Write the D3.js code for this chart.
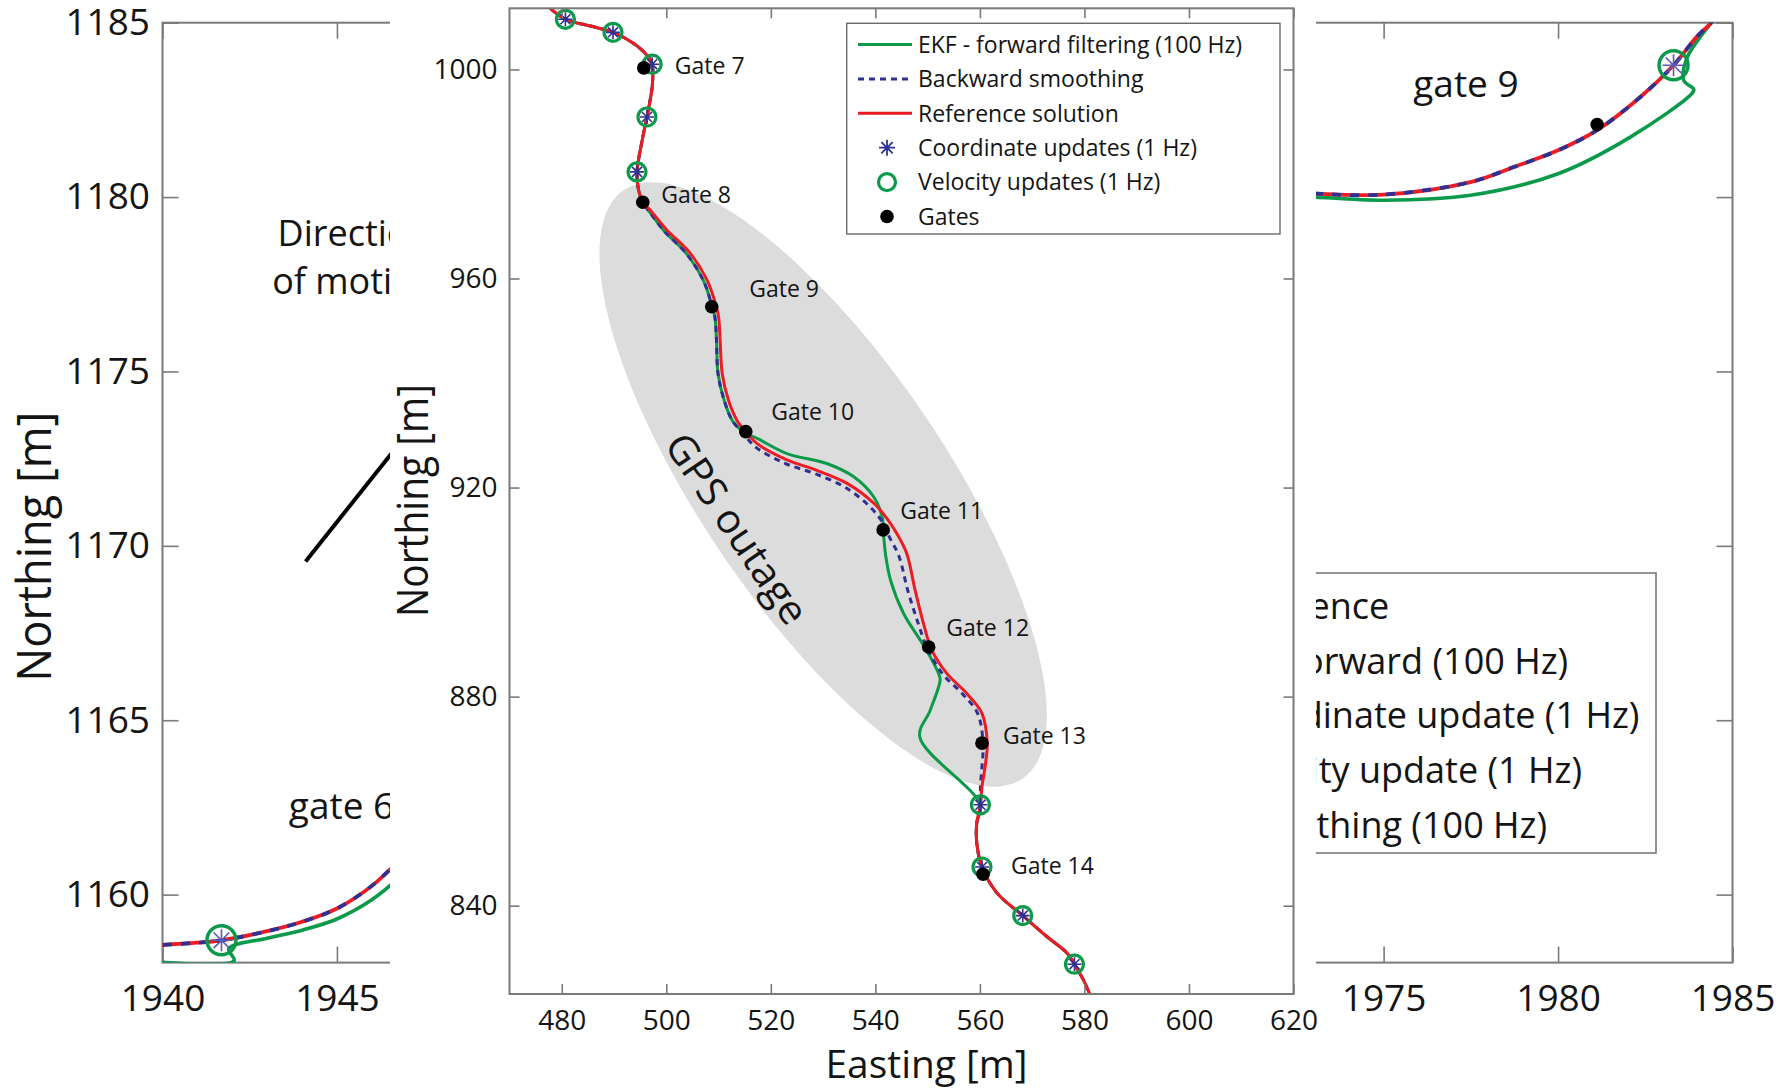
<!DOCTYPE html>
<html><head><meta charset="utf-8">
<script src="https://d3js.org/d3.v7.min.js"></script>
<style>
html,body{margin:0;padding:0;background:#fff}
svg{display:block}
text{font-family:"Open Sans","Noto Sans",sans-serif;fill:#141414}
</style></head><body>
<svg id="chart" width="1782" height="1088"></svg>
<script>
// ================= DATA =================
// --- background (zoomed-in) figure ---
const bgXTicks = [1940,1945,1950,1955,1960,1965,1970,1975,1980,1985];
const bgYTicks = [1160,1165,1170,1175,1180,1185];
const bgReferenceLeft = [[1939.5,1158.54],[1940,1158.56],[1941,1158.62],[1941.69,1158.69],[1943,1158.95],[1944,1159.22],[1945,1159.6],[1946,1160.25],[1946.8,1161.0]];
const bgSmoothingLeft = [[1939.5,1158.54],[1940,1158.56],[1941,1158.62],[1941.69,1158.69],[1943,1158.95],[1944,1159.22],[1945,1159.6],[1946,1160.25],[1946.8,1161.0]];
const bgEkfLeft = [[1939.5,1158.1],[1942.05,1158.1],[1941.9,1158.45],[1943,1158.75],[1944,1158.98],[1945,1159.3],[1946,1159.85],[1946.8,1160.5]];
const bgReferenceRight = [[1972.5,1180.15],[1973.07,1180.1],[1975.0,1180.07],[1977.49,1180.43],[1978.73,1180.86],[1980.0,1181.34],[1981.12,1181.92],[1982.36,1182.87],[1983.31,1183.78],[1983.98,1184.6],[1984.37,1184.98],[1984.6,1185.3]];
const bgSmoothingRight = [[1972.5,1180.15],[1973.07,1180.1],[1975.0,1180.07],[1977.49,1180.43],[1978.73,1180.86],[1980.0,1181.34],[1981.12,1181.92],[1982.36,1182.87],[1983.31,1183.78],[1983.98,1184.6],[1984.37,1184.98],[1984.6,1185.3]];
const bgEkfRight = [[1972.5,1180.03],[1973.07,1180.0],[1975.0,1179.91],[1977.49,1180.05],[1980.0,1180.67],[1982.07,1181.72],[1983.84,1182.97],[1983.89,1183.09],[1983.6,1183.35],[1983.7,1184.0],[1984.37,1184.98],[1984.6,1185.3]];
const bgUpdates = [[1941.69,1158.69],[1983.31,1183.78]];
const bgGates = [[1981.12,1182.08]];
const bgGateLabels = ["gate 6","gate 9"];
const bgGateLabelAt = [[1943.62,1162.17],[1975.85,1182.87]];
const bgArrow = [[1944.1,1169.55],[1947.4,1173.7]];
const bgDirectionLines = ["Direction","of motion"];
const bgDirectionAt = [[1945.49,1178.59],[1945.49,1177.21]];
const bgLegendLabels = ["Reference","EKF forward (100 Hz)","Coordinate update (1 Hz)","Velocity update (1 Hz)","Smoothing (100 Hz)"];

// --- main (inset) figure ---
const xTicks = [480,500,520,540,560,580,600,620];
const yTicks = [840,880,920,960,1000];
const referencePath = [[477.8,1011.7],[480.7,1009.6],[485.5,1008.3],[489.8,1007.1],[493.7,1005.0],[496.3,1002.7],[497.3,1001.0],[497.3,996.7],[496.9,994.1],[496.3,990.9],[495.4,986.5],[494.4,980.4],[494.7,976.9],[495.5,974.6],[496.9,973.1],[500.1,969.3],[504.6,964.8],[507.8,959.7],[509.2,955.9],[510.0,952.7],[510.3,948.2],[510.7,941.8],[511.9,936.7],[513.5,932.9],[515.2,930.7],[517.4,928.4],[523.1,925.3],[528.8,923.3],[534.6,920.8],[539.7,917.0],[542.2,914.1],[544.1,911.2],[546.0,907.4],[547.6,900.4],[549.2,894.0],[550.8,888.9],[553.7,884.4],[557.5,880.6],[560.4,876.8],[561.4,871.1],[561.0,866.6],[560.4,862.8],[560.1,859.3],[559.4,855.8],[559.4,852.0],[560.4,847.4],[563.3,842.4],[568.2,838.1],[572.8,834.1],[576.7,830.9],[578.1,828.8],[579.8,825.8],[581.1,822.9]];
const smoothingPath = [[477.8,1011.7],[480.7,1009.6],[485.5,1008.3],[489.8,1007.1],[493.7,1005.0],[496.3,1002.7],[497.3,1001.0],[497.3,996.7],[496.9,994.1],[496.3,990.9],[495.4,986.5],[494.4,980.4],[494.7,976.9],[495.5,974.6],[496.6,973.0],[499.5,969.2],[503.9,964.7],[507.1,959.6],[508.5,955.6],[509.3,952.6],[509.6,948.2],[509.9,941.8],[511.1,936.6],[512.7,932.7],[514.8,930.3],[517.0,927.8],[522.8,924.6],[528.6,922.6],[534.3,920.0],[539.1,916.2],[541.4,913.3],[542.6,910.7],[544.5,906.9],[546.2,900.3],[548.2,894.0],[549.9,889.3],[552.9,884.3],[556.7,880.5],[559.6,876.7],[560.6,871.1],[560.4,866.6],[560.1,862.8],[560.1,859.3],[559.4,855.8],[559.4,852.0],[560.4,847.4],[563.3,842.4],[568.2,838.1],[572.8,834.1],[576.7,830.9],[578.1,828.8],[579.8,825.8],[581.1,822.9]];
const ekfPath = [[477.8,1011.7],[480.7,1009.6],[485.5,1008.3],[489.8,1007.1],[493.7,1005.0],[496.3,1002.7],[497.3,1001.0],[497.3,996.7],[496.9,994.1],[496.3,990.9],[495.4,986.5],[494.4,980.4],[494.7,976.9],[495.5,974.6],[496.6,973.0],[499.5,969.2],[503.9,964.7],[507.1,959.6],[508.5,955.6],[509.3,952.6],[509.6,948.2],[509.9,941.8],[511.1,936.6],[512.7,932.7],[515.0,930.5],[517.4,929.4],[523.1,926.5],[530.7,924.6],[535.8,922.1],[539.7,918.2],[541.3,914.4],[541.6,910.6],[542.0,906.8],[542.9,902.3],[545.4,895.9],[548.6,890.8],[550.5,887.6],[552.1,884.4],[552.4,883.2],[550.5,877.4],[548.5,872.3],[560.1,859.3],[559.4,855.8],[559.4,852.0],[560.4,847.4],[563.3,842.4],[568.2,838.1],[572.8,834.1],[576.7,830.9],[578.1,828.8],[579.8,825.8],[581.1,822.9]];
const updatePoints = [[480.7,1009.6],[489.8,1007.1],[497.3,1001.0],[496.3,990.9],[494.4,980.4],[560.1,859.3],[560.4,847.4],[568.2,838.1],[578.1,828.8]];
const gatePoints = [[495.7,1000.3],[495.5,974.6],[508.7,954.6],[515.2,930.7],[541.5,911.9],[550.2,889.5],[560.4,871.1],[560.6,846.0]];
const gateNames = ["Gate 7","Gate 8","Gate 9","Gate 10","Gate 11","Gate 12","Gate 13","Gate 14"];
const outageCenter = [530.0,920.6];
const outageRadii = [68.0,23.5];
const outageAngle = -55.9;
const legendLabels = ["EKF - forward filtering (100 Hz)","Backward smoothing","Reference solution","Coordinate updates (1 Hz)","Velocity updates (1 Hz)","Gates"];

// ================= STYLE / LAYOUT =================
const GREEN = "#0a9a4a", RED = "#ec1c24", BLUE = "#2e3192", AXC = "#7a7a7a", TXT = "#141414";
const COVER_X0 = 390, COVER_X1 = 1316;
const svg = d3.select("#chart");
const defs = svg.append("defs");

function asterisk(r){let p="";for(let k=0;k<4;k++){const a=k*Math.PI/4,dx=r*Math.cos(a),dy=r*Math.sin(a);p+=`M${(-dx).toFixed(2)},${(-dy).toFixed(2)}L${dx.toFixed(2)},${dy.toFixed(2)}`;}return p;}
function styleAxis(g,fs){
  g.attr("font-family",'"Open Sans","Noto Sans",sans-serif').attr("font-size",fs);
  g.select(".domain").remove();
  g.selectAll(".tick line").attr("stroke",AXC).attr("stroke-width",1.6);
  g.selectAll(".tick text").attr("fill",TXT);
}

// ---------- background figure ----------
const xB = d3.scaleLinear().domain([1940,1985]).range([162.5,1732.5]);
const yB = d3.scaleLinear().domain([1158.05,1185]).range([962.6,22.7]);
defs.append("clipPath").attr("id","bgclip").append("rect")
  .attr("x",xB.range()[0]).attr("y",yB.range()[1])
  .attr("width",xB.range()[1]-xB.range()[0]).attr("height",yB.range()[0]-yB.range()[1]);
const bg = svg.append("g");
const visibleBgX = bgXTicks.filter(d=>xB(d)<COVER_X0 || xB(d)>COVER_X1);
bg.append("g").attr("transform",`translate(0,${yB.range()[0]})`)
  .call(d3.axisBottom(xB).tickValues(bgXTicks).tickSize(-16).tickPadding(22)
    .tickFormat(d=>visibleBgX.includes(d)?String(d):""))
  .call(g=>styleAxis(g,37));
bg.append("g").attr("transform",`translate(0,${yB.range()[1]})`)
  .call(d3.axisTop(xB).tickValues(bgXTicks).tickSize(-16).tickFormat(""))
  .call(g=>styleAxis(g,37));
bg.append("g").attr("transform",`translate(${xB.range()[0]},0)`)
  .call(d3.axisLeft(yB).tickValues(bgYTicks).tickSize(-16).tickPadding(12.5).tickFormat(d3.format("d")))
  .call(g=>styleAxis(g,37));
bg.append("g").attr("transform",`translate(${xB.range()[1]},0)`)
  .call(d3.axisRight(yB).tickValues(bgYTicks).tickSize(-16).tickFormat(""))
  .call(g=>styleAxis(g,37));
bg.append("rect").attr("x",xB.range()[0]).attr("y",yB.range()[1])
  .attr("width",xB.range()[1]-xB.range()[0]).attr("height",yB.range()[0]-yB.range()[1])
  .attr("fill","none").attr("stroke",AXC).attr("stroke-width",2);
bg.append("text").attr("transform","translate(51,546.7) rotate(-90)")
  .attr("text-anchor","middle").attr("font-size",48)
  .attr("textLength",270).attr("lengthAdjust","spacingAndGlyphs").text("Northing [m]");

const bgPlot = bg.append("g").attr("clip-path","url(#bgclip)");
const lineB = d3.line().x(d=>xB(d[0])).y(d=>yB(d[1])).curve(d3.curveCatmullRom.alpha(0.5));
[bgEkfLeft,bgEkfRight].forEach(s=>bgPlot.append("path").attr("d",lineB(s)).attr("fill","none").attr("stroke",GREEN).attr("stroke-width",3.6).attr("stroke-linejoin","round"));
[bgReferenceLeft,bgReferenceRight].forEach(s=>bgPlot.append("path").attr("d",lineB(s)).attr("fill","none").attr("stroke",RED).attr("stroke-width",3.8));
[bgSmoothingLeft,bgSmoothingRight].forEach(s=>bgPlot.append("path").attr("d",lineB(s)).attr("fill","none").attr("stroke",BLUE).attr("stroke-width",3.8).attr("stroke-dasharray","9,9"));
bgPlot.selectAll(".bgcirc").data(bgUpdates).join("circle").attr("cx",d=>xB(d[0])).attr("cy",d=>yB(d[1])).attr("r",14.5)
  .attr("fill","none").attr("stroke",GREEN).attr("stroke-width",3.5);
bgPlot.selectAll(".bgast").data(bgUpdates).join("path").attr("transform",d=>`translate(${xB(d[0])},${yB(d[1])})`)
  .attr("d",asterisk(11)).attr("stroke","#5a5ab0").attr("stroke-width",1.6);
bgPlot.selectAll(".bggate").data(bgGates).join("circle").attr("cx",d=>xB(d[0])).attr("cy",d=>yB(d[1])).attr("r",6.8).attr("fill","#000");
bgPlot.append("line").attr("x1",xB(bgArrow[0][0])).attr("y1",yB(bgArrow[0][1])).attr("x2",xB(bgArrow[1][0])).attr("y2",yB(bgArrow[1][1]))
  .attr("stroke","#000").attr("stroke-width",4);
bgGateLabels.forEach((t,i)=>bg.append("text").attr("x",xB(bgGateLabelAt[i][0])).attr("y",yB(bgGateLabelAt[i][1])).attr("font-size",37).text(t));
bgDirectionLines.forEach((t,i)=>bg.append("text").attr("x",xB(bgDirectionAt[i][0])).attr("y",yB(bgDirectionAt[i][1])).attr("text-anchor","middle").attr("font-size",36).text(t));
// background legend
const bgLeg = bg.append("g");
bgLeg.append("rect").attr("x",1130).attr("y",573).attr("width",526).attr("height",280).attr("fill","#fff").attr("stroke",AXC).attr("stroke-width",1.6);
bgLegendLabels.forEach((t,i)=>bgLeg.append("text").attr("x",1220).attr("y",606+i*54.7).attr("dy","0.36em").attr("font-size",36).text(t));

// ---------- inset figure (covers the middle) ----------
svg.append("rect").attr("x",COVER_X0).attr("y",0).attr("width",COVER_X1-COVER_X0).attr("height",1088).attr("fill","#fff");
const xC = d3.scaleLinear().domain([470,620]).range([509.5,1293.5]);
const yC = d3.scaleLinear().domain([823.1,1011.7]).range([994,8.3]);
defs.append("clipPath").attr("id","cclip").append("rect")
  .attr("x",xC.range()[0]).attr("y",yC.range()[1])
  .attr("width",xC.range()[1]-xC.range()[0]).attr("height",yC.range()[0]-yC.range()[1]);
const mc = svg.append("g");
const plot = mc.append("g").attr("clip-path","url(#cclip)");
// GPS outage ellipse
const kx = xC(1)-xC(0), ky = yC(0)-yC(1);
plot.append("ellipse").attr("transform",`translate(${xC(outageCenter[0])},${yC(outageCenter[1])}) rotate(${-outageAngle})`)
  .attr("rx",outageRadii[0]*kx).attr("ry",outageRadii[1]*ky).attr("fill","#dcdcdc");
plot.append("text").attr("transform",`translate(${xC(outageCenter[0])-86},${yC(outageCenter[1])+44}) rotate(${-outageAngle})`)
  .attr("text-anchor","middle").attr("dy","0.36em").attr("font-size",40)
  .attr("textLength",221).attr("lengthAdjust","spacingAndGlyphs").text("GPS outage");

mc.append("g").attr("transform",`translate(0,${yC.range()[0]})`)
  .call(d3.axisBottom(xC).tickValues(xTicks).tickSize(-10).tickPadding(16).tickFormat(d3.format("d")))
  .call(g=>styleAxis(g,28));
mc.append("g").attr("transform",`translate(0,${yC.range()[1]})`)
  .call(d3.axisTop(xC).tickValues(xTicks).tickSize(-10).tickFormat(""))
  .call(g=>styleAxis(g,28));
mc.append("g").attr("transform",`translate(${xC.range()[0]},0)`)
  .call(d3.axisLeft(yC).tickValues(yTicks).tickSize(-10).tickPadding(12).tickFormat(d3.format("d")))
  .call(g=>styleAxis(g,28));
mc.append("g").attr("transform",`translate(${xC.range()[1]},0)`)
  .call(d3.axisRight(yC).tickValues(yTicks).tickSize(-10).tickFormat(""))
  .call(g=>styleAxis(g,28));
mc.append("rect").attr("x",xC.range()[0]).attr("y",yC.range()[1])
  .attr("width",xC.range()[1]-xC.range()[0]).attr("height",yC.range()[0]-yC.range()[1])
  .attr("fill","none").attr("stroke",AXC).attr("stroke-width",2);
mc.append("text").attr("x",(xC.range()[0]+xC.range()[1])/2+25).attr("y",1077.5).attr("text-anchor","middle")
  .attr("font-size",38).attr("textLength",202).attr("lengthAdjust","spacingAndGlyphs").text("Easting [m]");
mc.append("text").attr("transform","translate(428,500.6) rotate(-90)").attr("text-anchor","middle")
  .attr("font-size",44).attr("textLength",233).attr("lengthAdjust","spacingAndGlyphs").text("Northing [m]");

const lineC = d3.line().x(d=>xC(d[0])).y(d=>yC(d[1])).curve(d3.curveCatmullRom.alpha(0.5));
plot.append("path").attr("d",lineC(ekfPath)).attr("fill","none").attr("stroke",GREEN).attr("stroke-width",3).attr("stroke-linejoin","round");
plot.append("path").attr("d",lineC(smoothingPath)).attr("fill","none").attr("stroke",BLUE).attr("stroke-width",3).attr("stroke-dasharray","6,5");
plot.append("path").attr("d",lineC(referencePath)).attr("fill","none").attr("stroke",RED).attr("stroke-width",3);
plot.selectAll(".vu").data(updatePoints).join("circle").attr("cx",d=>xC(d[0])).attr("cy",d=>yC(d[1])).attr("r",9)
  .attr("fill","none").attr("stroke",GREEN).attr("stroke-width",3.2);
plot.selectAll(".cu").data(updatePoints).join("path").attr("transform",d=>`translate(${xC(d[0])},${yC(d[1])})`)
  .attr("d",asterisk(7)).attr("stroke",BLUE).attr("stroke-width",1.6);
plot.selectAll(".gate").data(gatePoints).join("circle").attr("cx",d=>xC(d[0])).attr("cy",d=>yC(d[1])).attr("r",6.8).attr("fill","#000");
const gateLabelOffsets = [[31,-2],[18.5,-7],[37.5,-18],[25.5,-20],[17,-19],[17.5,-19.5],[21,-7],[28,-8.5]];
mc.selectAll(".glab").data(gatePoints).join("text").attr("x",(d,i)=>xC(d[0])+gateLabelOffsets[i][0]).attr("y",(d,i)=>yC(d[1])+gateLabelOffsets[i][1])
  .attr("dy","0.36em").attr("font-size",23).text((d,i)=>gateNames[i]);

// inset legend
const lg = mc.append("g");
lg.append("rect").attr("x",846.7).attr("y",23.3).attr("width",433.3).attr("height",210.7).attr("fill","#fff").attr("stroke","#6a6a6a").attr("stroke-width",1.4);
const rowY = i=>44.5+i*34.4;
lg.append("line").attr("x1",858).attr("x2",912).attr("y1",rowY(0)).attr("y2",rowY(0)).attr("stroke",GREEN).attr("stroke-width",3);
lg.append("line").attr("x1",858).attr("x2",912).attr("y1",rowY(1)).attr("y2",rowY(1)).attr("stroke",BLUE).attr("stroke-width",3).attr("stroke-dasharray","6,5");
lg.append("line").attr("x1",858).attr("x2",912).attr("y1",rowY(2)).attr("y2",rowY(2)).attr("stroke",RED).attr("stroke-width",3);
lg.append("path").attr("transform",`translate(887,${rowY(3)})`).attr("d",asterisk(8)).attr("stroke",BLUE).attr("stroke-width",1.8);
lg.append("circle").attr("cx",887).attr("cy",rowY(4)).attr("r",8.5).attr("fill","none").attr("stroke",GREEN).attr("stroke-width",3.2);
lg.append("circle").attr("cx",887).attr("cy",rowY(5)).attr("r",6.8).attr("fill","#000");
legendLabels.forEach((t,i)=>lg.append("text").attr("x",918).attr("y",rowY(i)).attr("dy","0.36em").attr("font-size",23).text(t));
</script>
</body></html>
